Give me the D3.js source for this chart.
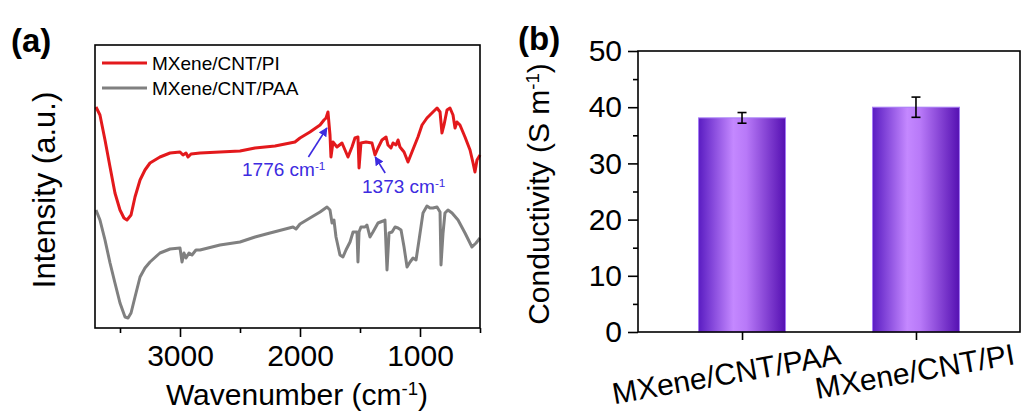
<!DOCTYPE html>
<html>
<head>
<meta charset="utf-8">
<script src="https://cdn.jsdelivr.net/npm/d3@7"></script>
<style>
  html, body { margin: 0; padding: 0; background: #fff; }
  svg { display: block; }
  text { font-family: "Liberation Sans", Arial, sans-serif; }
</style>
</head>
<body>
<svg id="chart" width="1024" height="412"></svg>
<script>
// ---------------- DATA ----------------
// Panel (a): FTIR spectra, [wavenumber (cm-1), intensity (a.u.)]
const piSpectrum = [
  [3700,221],[3667,213],[3625,188],[3583,161],[3542,135],[3500,118],[3467,110],[3442,108],
  [3408,113],[3375,131],[3333,148],[3292,158],[3250,165],[3167,171],[3083,175],[3000,176],
  [2975,173],[2950,175],[2933,171],[2908,174],[2833,175],[2667,176],[2500,177],[2375,180],
  [2208,182],[2083,185],[2042,186],[2000,190],[1917,196],[1833,203],[1800,208],[1783,210],
  [1767,216],[1750,193],[1742,171],[1725,186],[1692,181],[1650,185],[1625,178],[1600,171],
  [1567,181],[1542,190],[1517,191],[1508,160],[1492,185],[1450,186],[1400,185],[1375,173],
  [1350,180],[1317,188],[1283,191],[1267,183],[1242,180],[1225,185],[1200,183],[1183,188],
  [1167,181],[1133,176],[1100,166],[1067,176],[1017,191],[983,203],[942,210],[892,216],
  [858,220],[833,216],[817,195],[800,203],[775,218],[750,220],[725,213],[708,200],
  [692,206],[667,203],[625,191],[583,178],[558,165],[542,156],[525,168],[500,173]
];
const paaSpectrum = [
  [3700,118],[3667,108],[3625,88],[3583,65],[3542,45],[3500,25],[3458,11],[3433,10],
  [3408,15],[3375,31],[3333,51],[3292,60],[3250,66],[3167,75],[3083,79],[3000,80],
  [2983,66],[2967,75],[2950,70],[2925,75],[2900,73],[2867,78],[2833,78],[2667,83],
  [2500,86],[2375,91],[2250,95],[2058,101],[2033,99],[2000,104],[1917,110],[1833,116],
  [1775,121],[1750,118],[1733,105],[1717,108],[1700,91],[1667,73],[1642,71],[1617,78],
  [1583,86],[1558,96],[1525,96],[1517,66],[1508,96],[1492,101],[1458,101],[1442,103],
  [1417,91],[1392,96],[1350,105],[1308,107],[1292,108],[1275,58],[1258,95],[1233,96],
  [1208,101],[1183,100],[1158,98],[1133,81],[1108,61],[1083,66],[1058,70],[1033,68],
  [1008,88],[975,115],[942,122],[917,120],[892,120],[858,121],[833,116],[825,63],
  [808,95],[792,115],[767,118],[733,115],[683,108],[625,95],[567,81],[533,85],[500,90]
];
const spectraNames = ["MXene/CNT/PI", "MXene/CNT/PAA"];
const wavenumberTicks = [3000, 2000, 1000];
const wavenumberMinorTicks = [3500, 2500, 1500, 500];
// annotations: label, peak wavenumber, arrow tip intensity, arrow tail [wavenumber, intensity]
const annoLabels = ["1776", "1373"];
const annoTip = [[1776, 200], [1373, 171]];
const annoTail = [[1930, 171], [1290, 155]];

// Panel (b): conductivity
const categories = ["MXene/CNT/PAA", "MXene/CNT/PI"];
const conductivity = [38.1, 40.0];
const conductivityErr = [0.95, 1.8];
const condTicks = [0, 10, 20, 30, 40, 50];
const condMinorTicks = [5, 15, 25, 35, 45];

// ---------------- DRAW ----------------
const svg = d3.select("#chart");
svg.append("rect").attr("width", 1024).attr("height", 412).attr("fill", "#fff");
const FONT = 30;

function supText(sel, base, sup, after) {
  sel.text(null);
  sel.append("tspan").text(base);
  sel.append("tspan").attr("font-size", "0.62em").attr("dy", "-0.55em").text(sup);
  sel.append("tspan").attr("dy", "0.34em").text(after);
}

// ===== Panel (a) =====
const xA = d3.scaleLinear().domain([3700, 500]).range([96, 480]);
const yA = d3.scaleLinear().domain([0, 283]).range([328, 45]);
const gA = svg.append("g");

const line = d3.line().x(d => xA(d[0])).y(d => yA(d[1])).curve(d3.curveLinear);
gA.append("path").datum(paaSpectrum).attr("d", line)
  .attr("fill", "none").attr("stroke", "#808080").attr("stroke-width", 3).attr("stroke-linejoin", "round");
gA.append("path").datum(piSpectrum).attr("d", line)
  .attr("fill", "none").attr("stroke", "#e3191c").attr("stroke-width", 3).attr("stroke-linejoin", "round");

// frame
gA.append("rect").attr("x", 95).attr("y", 45).attr("width", 385).attr("height", 283)
  .attr("fill", "none").attr("stroke", "#000").attr("stroke-width", 1.6);

// bottom axis
const axA = d3.axisBottom(xA).tickValues(wavenumberTicks).tickSize(9).tickPadding(8).tickFormat(d3.format("d"));
const axAg = gA.append("g").attr("transform", "translate(0,328)").call(axA);
axAg.select(".domain").remove();
axAg.selectAll(".tick line").attr("stroke", "#000").attr("stroke-width", 1.6);
axAg.selectAll(".tick text").attr("font-size", FONT).attr("fill", "#000")
  .attr("font-family", "Liberation Sans, Arial, sans-serif");
const axAm = d3.axisBottom(xA).tickValues(wavenumberMinorTicks).tickSize(5).tickFormat("");
const axAmg = gA.append("g").attr("transform", "translate(0,328)").call(axAm);
axAmg.select(".domain").remove();
axAmg.selectAll(".tick line").attr("stroke", "#000").attr("stroke-width", 1.6);

// axis titles
supText(gA.append("text").attr("x", 297).attr("y", 405).attr("text-anchor", "middle")
  .attr("font-size", FONT), "Wavenumber (cm", "-1", ")");
gA.append("text").attr("transform", "translate(55,190) rotate(-90)").attr("text-anchor", "middle")
  .attr("font-size", 31).text("Intensity (a.u.)");
gA.append("text").attr("x", 11).attr("y", 52).attr("font-size", 33).attr("font-weight", "bold").text("(a)");

// legend
const legColors = ["#e3191c", "#808080"];
spectraNames.forEach((n, i) => {
  const yy = 63 + i * 25;
  gA.append("line").attr("x1", 102).attr("x2", 147).attr("y1", yy).attr("y2", yy)
    .attr("stroke", legColors[i]).attr("stroke-width", 3);
  gA.append("text").attr("x", 152).attr("y", yy + 7).attr("font-size", 19).attr("fill", "#000").text(n);
});

// annotations
const defs = svg.append("defs");
defs.append("marker").attr("id", "arrowBlue").attr("viewBox", "0 0 10 10").attr("refX", 9).attr("refY", 5)
  .attr("markerWidth", 9).attr("markerHeight", 9).attr("markerUnits", "userSpaceOnUse").attr("orient", "auto")
  .append("path").attr("d", "M0,0 L10,5 L0,10 Z").attr("fill", "#3d2be0");
const annoColor = "#3d2be0";
const annoTextPos = [[242, 176], [362, 193]];
annoLabels.forEach((lab, i) => {
  gA.append("line")
    .attr("x1", xA(annoTail[i][0])).attr("y1", yA(annoTail[i][1]))
    .attr("x2", xA(annoTip[i][0])).attr("y2", yA(annoTip[i][1]))
    .attr("stroke", annoColor).attr("stroke-width", 1.6).attr("marker-end", "url(#arrowBlue)");
  supText(gA.append("text").attr("x", annoTextPos[i][0]).attr("y", annoTextPos[i][1])
    .attr("font-size", 19).attr("fill", annoColor), lab + " cm", "-1", "");
});

// ===== Panel (b) =====
const xB = d3.scalePoint().domain(categories).range([638, 1020]).padding(0.598);
const yB = d3.scaleLinear().domain([0, 50]).range([332, 51]);
const gB = svg.append("g");
const barW = xB.step() * 0.5;

const grad = defs.append("linearGradient").attr("id", "barGrad").attr("x1", "0%").attr("x2", "100%").attr("y1", "0%").attr("y2", "0%");
[["0%", "#5a1cc2"], ["40%", "#c488ff"], ["55%", "#b879f8"], ["100%", "#5510b2"]].forEach(s =>
  grad.append("stop").attr("offset", s[0]).attr("stop-color", s[1]));

gB.selectAll("rect.bar").data(categories).enter().append("rect").attr("class", "bar")
  .attr("x", d => xB(d) - barW / 2).attr("width", barW)
  .attr("y", (d, i) => yB(conductivity[i])).attr("height", (d, i) => yB(0) - yB(conductivity[i]))
  .attr("fill", "url(#barGrad)").attr("stroke", "#a57af5").attr("stroke-width", 1);

// error bars
categories.forEach((c, i) => {
  const cx = xB(c), top = yB(conductivity[i] + conductivityErr[i]), bot = yB(conductivity[i] - conductivityErr[i]);
  gB.append("line").attr("x1", cx).attr("x2", cx).attr("y1", top).attr("y2", bot).attr("stroke", "#000").attr("stroke-width", 1.6);
  [top, bot].forEach(yy => gB.append("line").attr("x1", cx - 4.5).attr("x2", cx + 4.5).attr("y1", yy).attr("y2", yy)
    .attr("stroke", "#000").attr("stroke-width", 1.6));
});

// frame
gB.append("rect").attr("x", 638).attr("y", 51).attr("width", 382).attr("height", 281)
  .attr("fill", "none").attr("stroke", "#000").attr("stroke-width", 1.6);

// y axis
const ayB = d3.axisLeft(yB).tickValues(condTicks).tickSize(10).tickPadding(6).tickFormat(d3.format("d"));
const ayBg = gB.append("g").attr("transform", "translate(638,0)").call(ayB);
ayBg.select(".domain").remove();
ayBg.selectAll(".tick line").attr("stroke", "#000").attr("stroke-width", 1.6);
ayBg.selectAll(".tick text").attr("font-size", FONT).attr("fill", "#000")
  .attr("font-family", "Liberation Sans, Arial, sans-serif");
const ayBm = d3.axisLeft(yB).tickValues(condMinorTicks).tickSize(5).tickFormat("");
const ayBmg = gB.append("g").attr("transform", "translate(638,0)").call(ayBm);
ayBmg.select(".domain").remove();
ayBmg.selectAll(".tick line").attr("stroke", "#000").attr("stroke-width", 1.6);

// x axis
const axB = d3.axisBottom(xB).tickSize(8).tickFormat("");
const axBg = gB.append("g").attr("transform", "translate(0,332)").call(axB);
axBg.select(".domain").remove();
axBg.selectAll(".tick line").attr("stroke", "#000").attr("stroke-width", 1.6);

categories.forEach(c => {
  gB.append("text").attr("transform", `translate(${xB(c) + 100},364) rotate(-10)`)
    .attr("text-anchor", "end").attr("font-size", FONT).attr("fill", "#000").text(c);
});

supText(gB.append("text").attr("transform", "translate(549,194) rotate(-90)").attr("text-anchor", "middle")
  .attr("font-size", 30), "Conductivity (S m", "-1", ")");
gB.append("text").attr("x", 518).attr("y", 50).attr("font-size", 33).attr("font-weight", "bold").text("(b)");
</script>
</body>
</html>
